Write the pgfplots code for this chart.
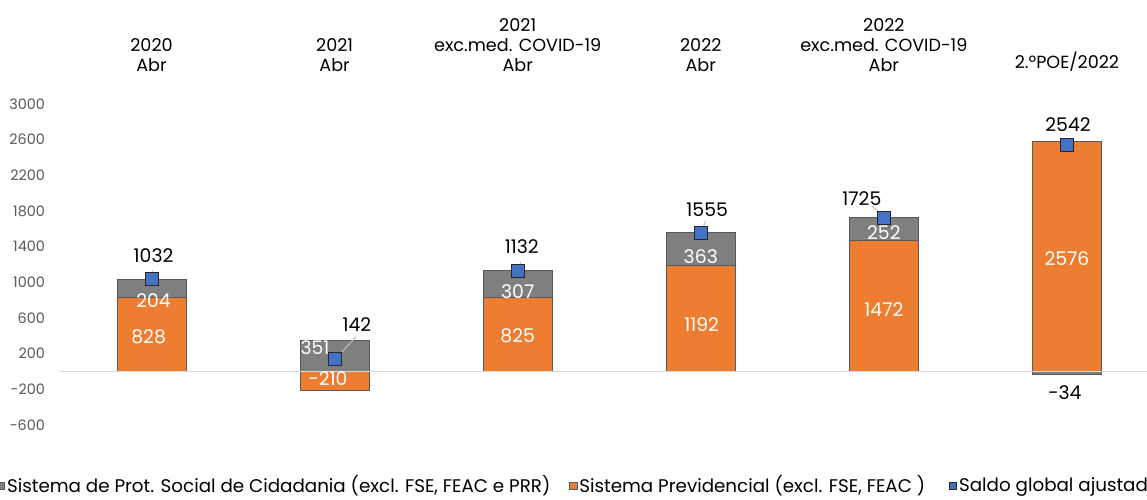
\documentclass[border=0pt]{standalone}
\usepackage{fontspec}
\setmainfont{Poppins}
\usepackage{pgfplots}
\pgfplotsset{compat=1.18}
\definecolor{cOrange}{HTML}{ED7D31}
\definecolor{cGray}{HTML}{7F7F7F}
\definecolor{cBlue}{HTML}{4472C4}
\definecolor{cEdge}{HTML}{595959}
\definecolor{cZero}{HTML}{D9D9D9}
\definecolor{cLead}{HTML}{BFBFBF}
\definecolor{cTick}{HTML}{595959}
\definecolor{cMk}{HTML}{262626}
\newcommand\vl{\fontsize{9.4}{10}\selectfont}
\pgfplotsset{base/.style={at={(30pt,37pt)}, anchor=south west, scale only axis,
  width=549.25pt, height=160.5pt, xmin=-0.5, xmax=5.5, ymin=-600, ymax=3000,
  axis line style={draw=none}, major tick style={draw=none}, minor tick style={draw=none}}}
\begin{document}
\begin{tikzpicture}
\path[use as bounding box] (0,0) rectangle (573.5pt,249.5pt);
\clip (0,0) rectangle (573.5pt,249.5pt);
\begin{axis}[base, ybar stacked, bar width=34.5pt,
  ytick={-600,-200,...,3000},
  yticklabel style={font=\fontsize{7.2}{8}\selectfont, text=cTick, xshift=-4pt},
  /pgf/number format/assume math mode=true, /pgf/number format/1000 sep={},
  xtick={0,...,5},
  xticklabels={2020\\Abr, 2021\\Abr, 2021\\exc.med. COVID-19\\Abr, 2022\\Abr, 2022\\exc.med. COVID-19\\Abr, 2.ºPOE/2022},
  xticklabel pos=right,
  xticklabel style={align=center, anchor=south, font=\fontsize{8.8}{10}\selectfont, yshift=12.5pt},
  legend style={at={(axis description cs:-0.0573,-0.189)}, anchor=west, draw=none, fill=none,
    inner sep=0pt, outer sep=0pt, font=\fontsize{9.15}{10}\selectfont, legend columns=3,
    /tikz/every odd column/.append style={column sep=0pt},
    /tikz/column 2/.style={column sep=8.5pt},
    /tikz/column 4/.style={column sep=11pt},
    nodes={inner xsep=1pt, inner ysep=0pt}},
  legend cell align=left,
  legend image code/.code={\draw[#1, line width=0.4pt] (0pt,-1.8pt) rectangle (3.6pt,1.8pt);},
]
\addplot[fill=cOrange, draw=cEdge, line width=0.5pt, forget plot] coordinates {(0,828) (1,0) (2,825) (3,1192) (4,1472) (5,2576)};
\addplot[fill=cGray, draw=cEdge, line width=0.5pt, forget plot] coordinates {(0,204) (1,351) (2,307) (3,363) (4,252) (5,0)};
\addlegendimage{fill=cGray, draw=cEdge}
\addlegendentry{Sistema de Prot. Social de Cidadania (excl. FSE, FEAC e PRR)}
\addlegendimage{fill=cOrange, draw=cEdge}
\addlegendentry{Sistema Previdencial (excl. FSE, FEAC )}
\addlegendimage{fill=cBlue, draw=cMk}
\addlegendentry{Saldo global ajustado}
\end{axis}
\begin{axis}[base, hide axis]
\addplot[ybar, bar width=34.5pt, bar shift=0pt, fill=cOrange, draw=cEdge, line width=0.5pt] coordinates {(1,-210)};
\addplot[ybar, bar width=34.5pt, bar shift=0pt, fill=cGray, draw=cEdge, line width=0.5pt] coordinates {(5,-34)};
\draw[cZero, line width=0.6pt] (axis cs:-0.5,0) -- (axis cs:5.5,0);
\addplot[only marks, mark=square*, mark size=3.25pt, mark options={fill=cBlue, draw=cMk, line width=0.5pt}] coordinates {(0,1032) (1,142) (2,1132) (3,1555) (4,1725) (5,2542)};
% leader lines
\draw[cLead, line width=0.5pt] (axis cs:0.005,1132) -- (axis cs:0,1037);
\draw[cLead, line width=0.5pt] (axis cs:1.117,390) -- (axis cs:1.008,148);
\draw[cLead, line width=0.5pt] (axis cs:2.016,1231) -- (axis cs:2.005,1146);
\draw[cLead, line width=0.5pt] (axis cs:3.027,1691) -- (axis cs:3,1556);
\draw[cLead, line width=0.5pt] (axis cs:3.935,1855) -- (axis cs:3.99,1754);
% value labels
\node[font=\vl] at (axis cs:0.011,1295) {1032};
\node[font=\vl, text=white] at (axis cs:0.011,796) {204};
\node[font=\vl, text=white] at (axis cs:-0.016,387) {828};
\node[font=\vl, text=white] at (axis cs:0.893,263) {351};
\node[font=\vl, text=white] at (axis cs:0.964,-84) {-210};
\node[font=\vl] at (axis cs:1.122,521) {142};
\node[font=\vl] at (axis cs:2.022,1396) {1132};
\node[font=\vl, text=white] at (axis cs:2,895) {307};
\node[font=\vl, text=white] at (axis cs:2,398) {825};
\node[font=\vl] at (axis cs:3.035,1810) {1555};
\node[font=\vl, text=white] at (axis cs:3,1287) {363};
\node[font=\vl, text=white] at (axis cs:3.005,521) {1192};
\node[font=\vl] at (axis cs:3.88,1934) {1725};
\node[font=\vl, text=white] at (axis cs:4,1555) {252};
\node[font=\vl, text=white] at (axis cs:4,689) {1472};
\node[font=\vl] at (axis cs:5.006,2764) {2542};
\node[font=\vl, text=white] at (axis cs:5,1269) {2576};
\node[font=\vl] at (axis cs:4.989,-238) {-34};
\end{axis}
\end{tikzpicture}
\end{document}
